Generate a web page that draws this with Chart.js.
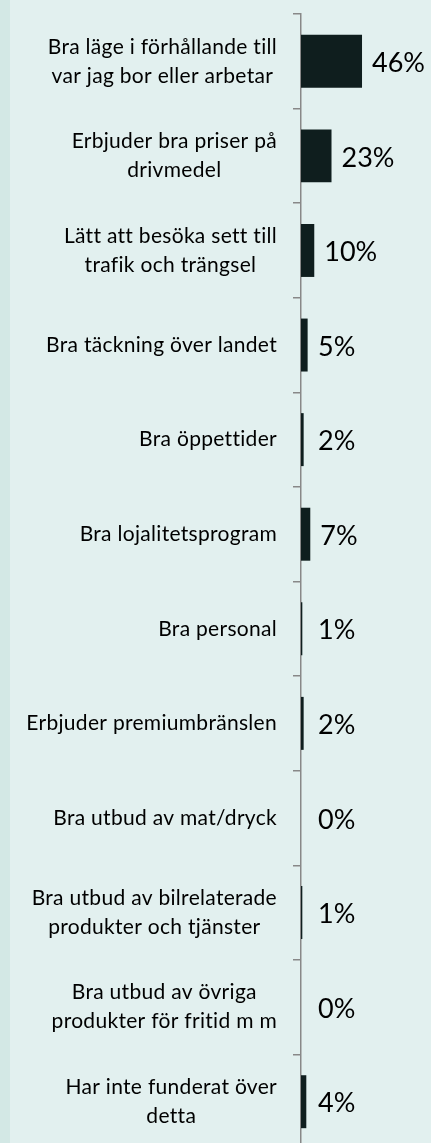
<!DOCTYPE html>
<html>
<head>
<meta charset="utf-8">
<script src="https://cdn.jsdelivr.net/npm/chart.js@4"></script>
<style>
  html, body { margin: 0; padding: 0; overflow: hidden; }
  body { background: linear-gradient(to right, #d3e8e5 10px, #e2f0ef 10px); width: 431px; height: 1143px; }
  canvas { display: block; }
</style>
</head>
<body>
<canvas id="barChart" width="431" height="1150"></canvas>
<script>
// kategorier (radbrytning per rad)
const categories = [
  ['Bra läge i förhållande till', 'var jag bor eller arbetar'],
  ['Erbjuder bra priser på', 'drivmedel'],
  ['Lätt att besöka sett till', 'trafik och trängsel'],
  ['Bra täckning över landet'],
  ['Bra öppettider'],
  ['Bra lojalitetsprogram'],
  ['Bra personal'],
  ['Erbjuder premiumbränslen'],
  ['Bra utbud av mat/dryck'],
  ['Bra utbud av bilrelaterade', 'produkter och tjänster'],
  ['Bra utbud av övriga', 'produkter för fritid m m'],
  ['Har inte funderat över', 'detta']
];
const values = [46, 23, 10, 5, 2, 7, 1, 2, 0, 1, 0, 4];

const labelPlugin = {
  id: 'labels',
  afterDatasetsDraw(chart) {
    const ctx = chart.ctx;
    const y = chart.scales.y;
    const meta = chart.getDatasetMeta(0);
    ctx.save();
    ctx.fillStyle = '#000';
    ctx.textBaseline = 'middle';
    // kategorietiketter: rader centrerade mot varandra, blocket högerställt
    ctx.font = '21px Lato';
    ctx.letterSpacing = '0.3px';
    const right = 277, lh = 29;
    categories.forEach((lines, i) => {
      const cy = y.getPixelForValue(i);
      const w = Math.max(...lines.map(l => ctx.measureText(l).width));
      ctx.textAlign = 'center';
      lines.forEach((l, j) => {
        ctx.fillText(l, right - w / 2, cy + (j - (lines.length - 1) / 2) * lh);
      });
    });
    // procentetiketter
    ctx.font = '27px Lato';
    ctx.letterSpacing = '0px';
    ctx.textAlign = 'left';
    meta.data.forEach((bar, i) => {
      ctx.fillText(values[i] + '%', Math.max(bar.x + 10, 318), bar.y + 2);
    });
    ctx.restore();
  }
};

new Chart(document.getElementById('barChart').getContext('2d'), {
  type: 'bar',
  data: {
    labels: categories,
    datasets: [{
      data: values,
      backgroundColor: '#0f1e1e',
      barPercentage: 0.56,
      categoryPercentage: 1
    }]
  },
  options: {
    indexAxis: 'y',
    responsive: false,
    animation: false,
    layout: { padding: { top: 14, bottom: 1, left: 0, right: 0 } },
    plugins: { legend: { display: false }, tooltip: { enabled: false } },
    scales: {
      x: { display: false, min: 0, max: 98 },
      y: {
        offset: true,
        ticks: { display: false },
        grid: { offset: true, drawOnChartArea: false, tickLength: 8, color: '#888', lineWidth: 1.5 },
        border: { color: '#888', width: 1.5 },
        afterFit(scale) { scale.width = 301; }
      }
    }
  },
  plugins: [labelPlugin]
});
</script>
</body>
</html>
